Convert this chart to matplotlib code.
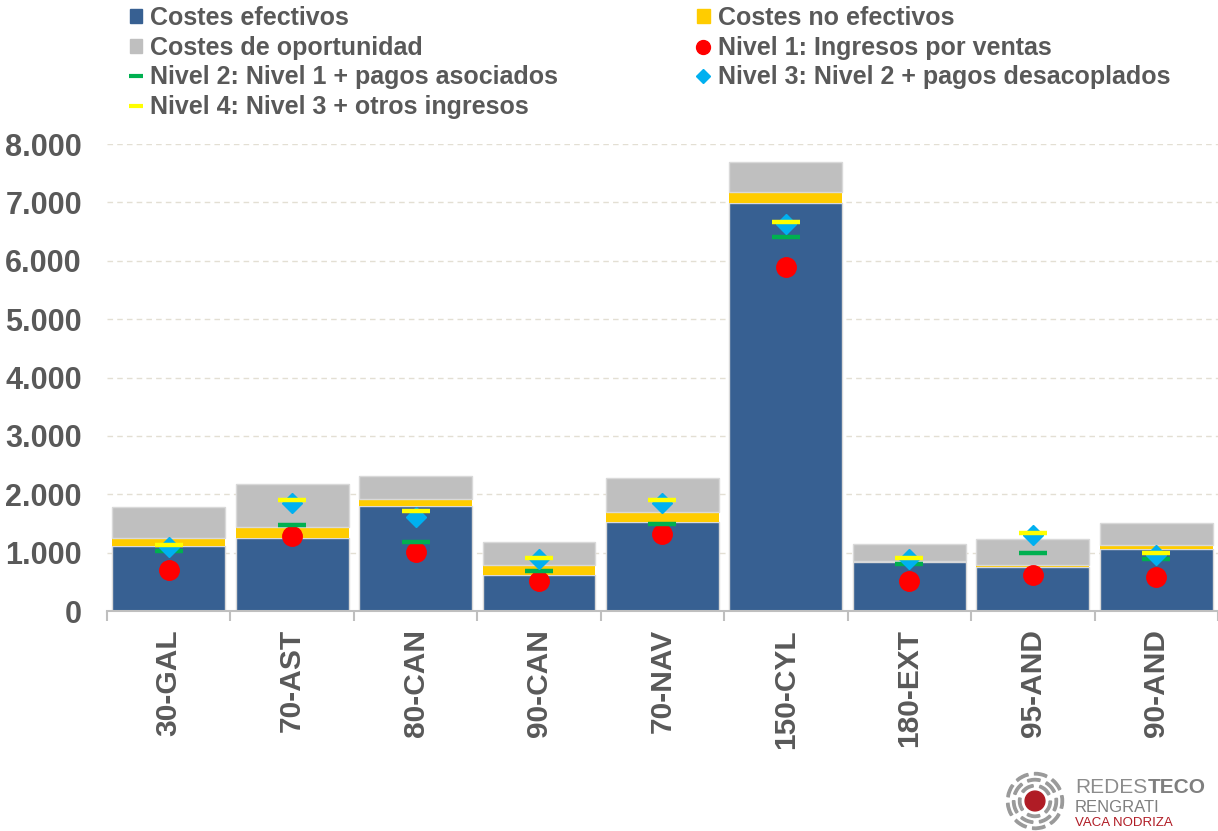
import numpy as np
import matplotlib
matplotlib.use("Agg")
import matplotlib.pyplot as plt
from matplotlib.lines import Line2D
from matplotlib.patches import Patch, Circle, Wedge
from matplotlib.ticker import FuncFormatter, FixedLocator

plt.rcParams["font.family"] = ["Liberation Sans", "DejaVu Sans"]

# Data
categories = ["30-GAL", "70-AST", "80-CAN", "90-CAN", "70-NAV", "150-CYL", "180-EXT", "95-AND", "90-AND"]
costes_efectivos = [1115, 1250, 1800, 620, 1525, 6990, 840, 755, 1065]
costes_no_efectivos = [135, 190, 120, 170, 170, 190, 10, 30, 65]
costes_oportunidad = [530, 735, 395, 395, 580, 510, 300, 450, 375]
nivel1 = [705, 1285, 1010, 515, 1320, 5895, 515, 615, 585]
nivel2 = [1030, 1475, 1185, 685, 1490, 6405, 805, 995, 890]
nivel3 = [1100, 1850, 1610, 890, 1850, 6630, 890, 1300, 960]
nivel4 = [1130, 1900, 1715, 910, 1900, 6665, 910, 1335, 995]

BLUE = "#376092"
GOLD = "#ffcc00"
GREY = "#bfbfbf"
TXT = "#595959"

fig = plt.figure(figsize=(12.18, 8.31), dpi=100)
ax = fig.add_axes([0.0878, 0.2647, 0.9122, 0.562])

x = np.arange(len(categories))
w = 0.915
ec = "#d9d9d9"
ax.bar(x, costes_efectivos, w, color=BLUE, edgecolor=ec, linewidth=1, zorder=2)
bottom2 = np.array(costes_efectivos)
ax.bar(x, costes_no_efectivos, w, bottom=bottom2, color=GOLD, edgecolor="none", zorder=2)
bottom3 = bottom2 + np.array(costes_no_efectivos)
ax.bar(x, costes_oportunidad, w, bottom=bottom3, color=GREY, edgecolor=ec, linewidth=1, zorder=2)

ax.plot(x, nivel1, "o", color="#ff0000", ms=14, mec="#ff0000", ls="none", zorder=4)
ax.plot(x, nivel2, "_", color="#00b050", ms=20, mew=3.2, ls="none", zorder=4)
ax.plot(x, nivel3, "D", color="#00b0f0", ms=10, mec="#00b0f0", ls="none", zorder=4)
ax.plot(x, nivel4, "_", color="#ffff00", ms=20, mew=3.2, ls="none", zorder=5)

ax.set_xlim(-0.5, len(categories) - 0.5)
ax.set_ylim(0, 8000)
ax.set_yticks(np.arange(0, 8001, 1000))
ax.yaxis.set_major_formatter(FuncFormatter(lambda v, p: f"{int(v):,}".replace(",", ".")))
ax.grid(axis="y", color="#e3dfd3", ls=(0, (4, 3)), lw=1, zorder=0)
for s in ["top", "right", "left"]:
    ax.spines[s].set_visible(False)
ax.spines["bottom"].set_color("#bfbfbf")
ax.spines["bottom"].set_linewidth(1.5)
ax.tick_params(axis="y", length=0, labelsize=22, labelcolor=TXT, pad=18)
ax.set_xticks(x)
ax.set_xticklabels(categories, rotation=90, fontsize=21.5, fontweight="bold", color=TXT)
ax.tick_params(axis="x", which="major", length=0, pad=13)
ax.xaxis.set_minor_locator(FixedLocator(np.arange(-0.5, len(categories), 1)))
ax.tick_params(axis="x", which="minor", length=7, width=1.5, color="#bfbfbf")
for lab in ax.get_yticklabels():
    lab.set_fontweight("bold")

handles = [
    Patch(color=BLUE, label="Costes efectivos"),
    Patch(color=GREY, label="Costes de oportunidad"),
    Line2D([], [], marker="_", color="#00b050", ms=10, mew=3, ls="none", label="Nivel 2: Nivel 1 + pagos asociados"),
    Line2D([], [], marker="_", color="#ffff00", ms=10, mew=3, ls="none", label="Nivel 4: Nivel 3 + otros ingresos"),
    Patch(color=GOLD, label="Costes no efectivos"),
    Line2D([], [], marker="o", color="#ff0000", ms=10, ls="none", label="Nivel 1: Ingresos por ventas"),
    Line2D([], [], marker="D", color="#00b0f0", ms=7, ls="none", label="Nivel 3: Nivel 2 + pagos desacoplados"),
]
leg = fig.legend(handles=handles, ncol=2, loc="upper left", bbox_to_anchor=(0.0985, 1.0048),
                 frameon=False, prop={"size": 18, "weight": "bold"}, labelcolor=TXT,
                 handlelength=0.5, handleheight=0.5, handletextpad=0.32, columnspacing=5.55,
                 labelspacing=0.22, borderaxespad=0)

# logo
lax = fig.add_axes([0.8251, 0.0, 0.0493, 0.0722])
lax.set_xlim(-1, 1)
lax.set_ylim(-1, 1)
lax.axis("off")
lax.add_patch(Circle((0, 0), 0.33, color="#b01c25"))
for r, n in [(0.55, 5), (0.75, 7), (0.95, 9)]:
    step = 360 / n
    for i in range(n):
        a0 = i * step + 25
        lax.add_patch(Wedge((0, 0), r, a0, a0 + step * 0.65, width=0.08, color="#9a9a9a"))

fig.canvas.draw()
t1 = fig.text(0.8826, 0.0457, "REDES", fontsize=15, color="#8c8c8c", ha="left", va="baseline")
bb = t1.get_window_extent(fig.canvas.get_renderer())
fig.text(bb.x1 / fig.bbox.width, 0.0457, "TECO", fontsize=15, color="#7f7f7f",
         ha="left", va="baseline", fontweight="bold")
fig.text(0.8826, 0.0229, "RENGRATI", fontsize=12, color="#7f7f7f", ha="left", va="baseline")
fig.text(0.8826, 0.006, "VACA NODRIZA", fontsize=9.5, color="#b01c25", ha="left", va="baseline")

fig.savefig("out.png", dpi=100)
